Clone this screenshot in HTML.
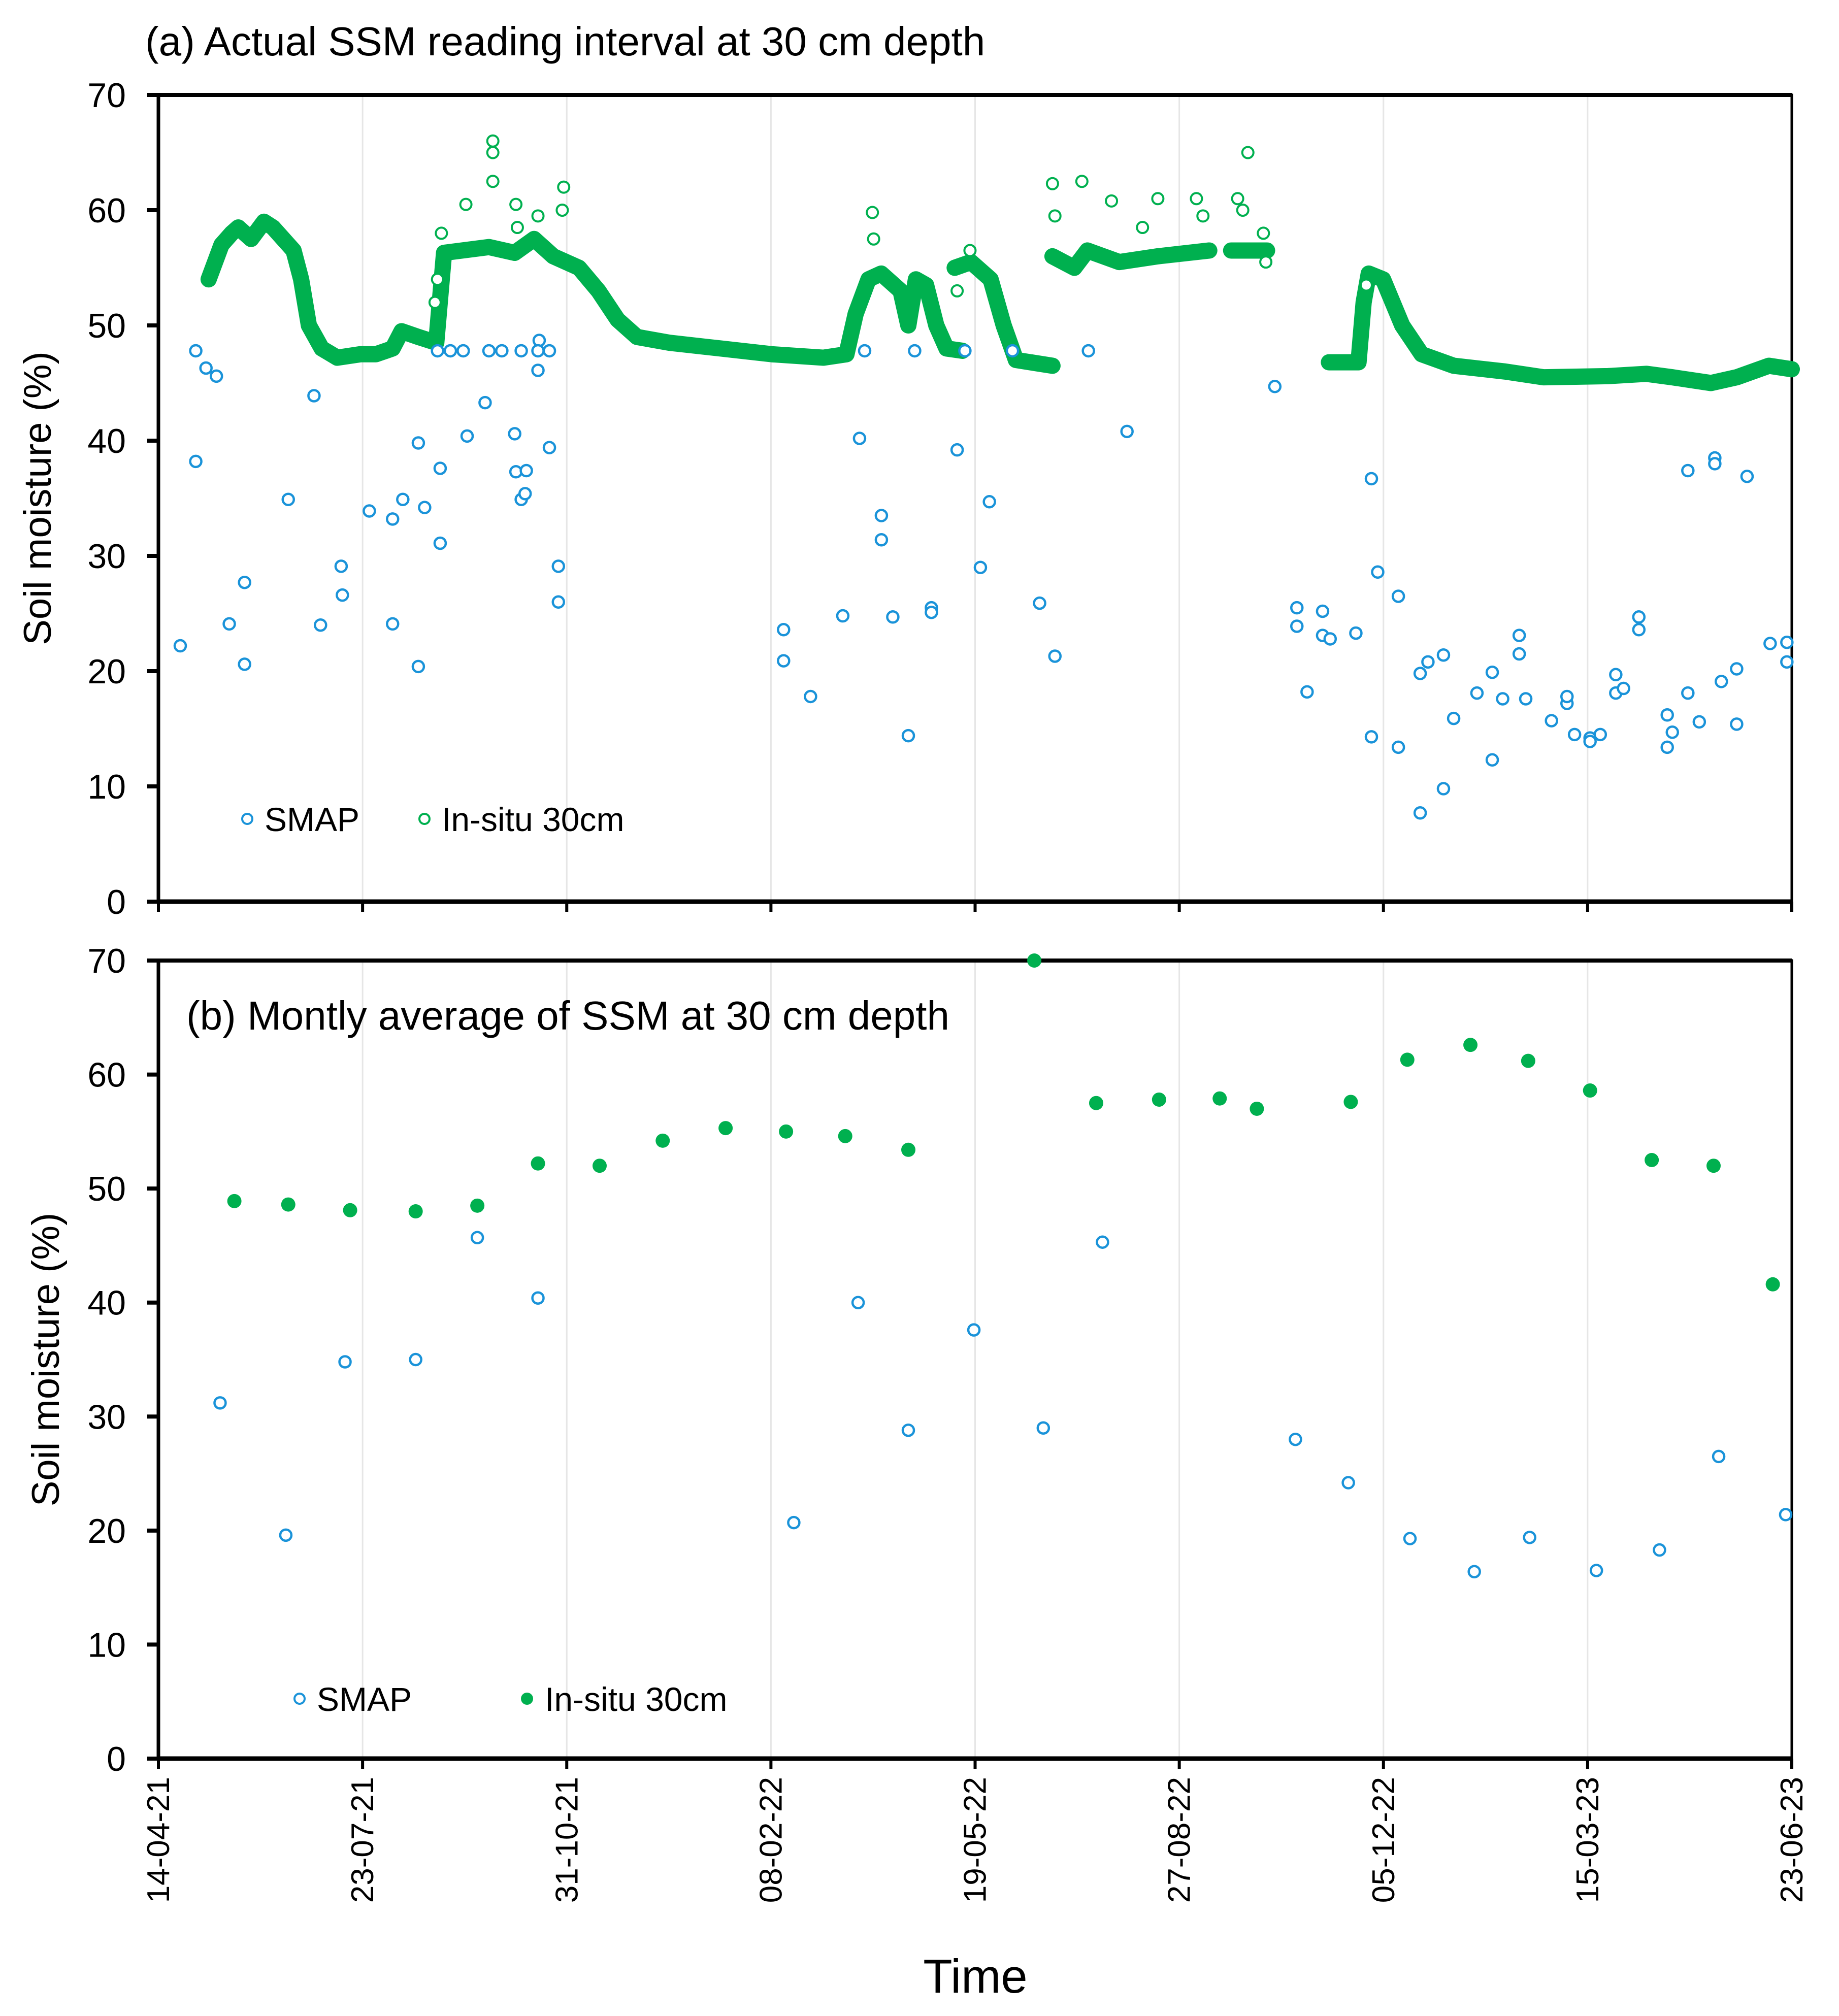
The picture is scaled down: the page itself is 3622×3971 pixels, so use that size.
<!DOCTYPE html>
<html><head><meta charset="utf-8">
<style>
html,body{margin:0;padding:0;background:#fff;}
svg{display:block;font-family:"Liberation Sans",Arial,sans-serif;}
</style></head>
<body>
<svg id="chart" width="3622" height="3971" viewBox="0 0 3622 3971" xmlns="http://www.w3.org/2000/svg"></svg>
<script>
// ---- data (x in days since 14-04-21) ----
const dateTickLabels = ["14-04-21","23-07-21","31-10-21","08-02-22","19-05-22","27-08-22","05-12-22","15-03-23","23-06-23"];
const dateTickDays = [0,100,200,300,400,500,600,700,800];
const yTickLabels = ["0","10","20","30","40","50","60","70"];
const yTickValues = [0,10,20,30,40,50,60,70];

// panel (a) in-situ daily trace segments (null = gap)
const insituDays = [24.6,30.9,35.9,39.1,45.4,51.7,56.1,66.2,69.9,73.7,80,87.6,98.9,106.5,114.7,119.1,127.3,136.1,139.9,161.9,174.5,184,193.4,206,215.5,224.9,234.4,250.1,275.3,300.5,325.7,337,341.5,347.8,354,363.5,367.3,371,376,381,386,393.8,null,390,398,407.6,414,420,437.9,null,437.9,448.6,455,470.6,489.5,514.7,null,525.4,543,null,573.3,587.8,590.3,592.8,599.8,609.2,618.7,634.4,659.6,678.5,710,728.9,741.5,760.4,773,788.8,800];
const insituVals = [54,57,58,58.5,57.5,59,58.5,56.5,54,50,48,47.2,47.5,47.5,48,49.5,49,48.5,56.3,56.8,56.3,57.5,56,55,53,50.5,49,48.5,48,47.5,47.2,47.5,51,54,54.5,53,50,54,53.5,50,48,47.8,null,55,55.5,54,50,47,46.5,null,56,55,56.5,55.5,56,56.5,null,56.5,56.5,null,46.8,46.8,52,54.5,54,50,47.5,46.5,46,45.5,45.6,45.8,45.5,45,45.5,46.5,46.2];
// panel (a) in-situ spikes (open circles)
const spikeDays = [135.5,136.7,138.6,150.6,163.8,163.8,163.8,175.1,175.8,185.9,198.5,197.8,349.7,350.3,391.2,397.5,437.9,452.3,439.1,466.8,482,489.5,508.4,511.6,528.6,533.6,531.1,541.2,542.4,591.6];
const spikeVals = [52,54,58,60.5,66,65,62.5,60.5,58.5,59.5,62,60,59.8,57.5,53,56.5,62.3,62.5,59.5,60.8,58.5,61,61,59.5,61,65,60,58,55.5,53.5];
// panel (a) SMAP
const smapADays = [10.7,18.3,18.3,23.3,28.4,34.7,42.2,42.2,63.6,76.2,79.4,89.5,90.1,103.3,114.7,114.7,119.7,127.3,127.3,130.4,138,138,136.7,143,149.3,151.2,160,161.9,168.2,174.5,175.1,177.7,179.6,180.2,177.7,186.5,185.9,185.9,191.5,191.5,195.9,195.9,306.2,306.2,319.4,335.2,343.4,345.9,354.1,354.1,359.7,367.3,370.4,378.6,378.6,391.2,395,402.6,407,418.3,431.6,439.1,455.5,474.4,546.8,557.6,557.6,562.6,570.2,570.2,573.9,586.5,594.1,594.1,597.2,607.3,607.3,618,618,621.8,629.4,629.4,634.4,645.8,653.3,653.3,658.4,666.5,666.5,669.7,682.3,689.9,689.9,693.6,701.2,701.2,706.2,713.8,713.8,717.6,725.1,725.1,739,739,741.5,749.1,749.1,754.7,762.3,762.3,765.5,773,773,778.1,789.4,797.6,797.6];
const smapAVals = [22.2,47.8,38.2,46.3,45.6,24.1,27.7,20.6,34.9,43.9,24,29.1,26.6,33.9,33.2,24.1,34.9,39.8,20.4,34.2,37.6,31.1,47.8,47.8,47.8,40.4,43.3,47.8,47.8,40.6,37.3,34.9,35.4,37.4,47.8,48.7,46.1,47.8,47.8,39.4,29.1,26,23.6,20.9,17.8,24.8,40.2,47.8,33.5,31.4,24.7,14.4,47.8,25.5,25.1,39.2,47.8,29,34.7,47.8,25.9,21.3,47.8,40.8,44.7,25.5,23.9,18.2,25.2,23.1,22.8,23.3,36.7,14.3,28.6,26.5,13.4,19.8,7.7,20.8,21.4,9.8,15.9,18.1,19.9,12.3,17.6,23.1,21.5,17.6,15.7,17.2,17.8,14.5,14.2,13.9,14.5,19.7,18.1,18.5,24.7,23.6,16.2,13.4,14.7,37.4,18.1,15.6,38.5,38,19.1,20.2,15.4,36.9,22.4,22.5,20.8];
// panel (b) monthly averages
const insituBDays = [37.2,63.6,93.9,126,156.2,185.9,216.1,247,277.8,307.4,336.4,367.3,429,459.3,490.1,519.8,538,584,611.7,642.6,670.9,701.2,731.4,761.7,790.7];
const insituBVals = [48.9,48.6,48.1,48,48.5,52.2,52,54.2,55.3,55,54.6,53.4,70,57.5,57.8,57.9,57,57.6,61.3,62.6,61.2,58.6,52.5,52,41.6];
const smapBDays = [30.2,62.4,91.4,126,156.2,185.9,311.2,342.7,367.3,399.4,433.4,462.4,556.9,582.8,613,644.5,671.6,704.3,735.2,764.2,797];
const smapBVals = [31.2,19.6,34.8,35,45.7,40.4,20.7,40,28.8,37.6,29,45.3,28,24.2,19.3,16.4,19.4,16.5,18.3,26.5,21.4];

// ---- drawing ----
const NS="http://www.w3.org/2000/svg";
const svg=document.getElementById('chart');
function mk(tag,attrs,parent){const e=document.createElementNS(NS,tag);for(const k in attrs)e.setAttribute(k,attrs[k]);(parent||svg).appendChild(e);return e;}
const L=312,R=3529;
const xS=d=>L+(R-L)*d/800;
const panels=[{top:187,bot:1776,name:'a'},{top:1892,bot:3464,name:'b'}];
const BLUE="#1a93d9",GREEN="#00b04f";

panels.forEach(p=>{
  const yS=v=>p.bot-(p.bot-p.top)*v/70;
  p.yS=yS;
  const g=mk('g',{});
  
  
  dateTickDays.forEach((d,i)=>{ if(i===0||i===dateTickDays.length-1)return;
    const l=mk('line',{x1:xS(d),x2:xS(d),y1:p.top,y2:p.bot,stroke:'#e6e6e6','stroke-width':3},g);
    
    
  });
  yTickValues.forEach((v,i)=>{
    const t=mk('line',{x1:L-22,x2:L,y1:yS(v),y2:yS(v),stroke:'#000','stroke-width':8},g);
    
    
    const tx=mk('text',{x:248,y:yS(v)+24,'text-anchor':'end','font-size':68,fill:'#000'},g);
    tx.textContent=yTickLabels[i];
    
    
  });
  dateTickDays.forEach(d=>{
    const t=mk('line',{x1:xS(d),x2:xS(d),y1:p.bot,y2:p.bot+20,stroke:'#000','stroke-width':6},g);
    
    
  });
  const fr=mk('rect',{x:L,y:p.top,width:R-L,height:p.bot-p.top,fill:'none',stroke:'#000','stroke-width':5},g);
  
  
  mk('line',{x1:L,x2:R,y1:p.top,y2:p.top,stroke:'#000','stroke-width':8},g);
  mk('line',{x1:L,x2:R,y1:p.bot,y2:p.bot,stroke:'#000','stroke-width':9},g);
  mk('line',{x1:L,x2:L,y1:p.top,y2:p.bot,stroke:'#000','stroke-width':7},g);
  const yt=mk('text',{x:0,y:0,'text-anchor':'middle','font-size':76,fill:'#000',transform:`translate(${p.name==='a'?100:116},${(p.top+p.bot)/2}) rotate(-90)`},g);
  yt.textContent='Soil moisture (%)';
  
  
});

// panel a
const pa=panels[0],ya=pa.yS;
let segs=[],cur=[];
insituDays.forEach((d,i)=>{ if(d===null){segs.push(cur);cur=[];} else cur.push([xS(d),ya(insituVals[i])]); });
segs.push(cur);
segs.forEach(s=>{
  const pl=mk('polyline',{points:s.map(p=>p.join(',')).join(' '),fill:'none',stroke:GREEN,'stroke-width':32,'stroke-linejoin':'round','stroke-linecap':'round'});
  
  
});
spikeDays.forEach((d,i)=>{
  const c=mk('circle',{cx:xS(d),cy:ya(spikeVals[i]),r:11,fill:'#fff',stroke:GREEN,'stroke-width':4});
  
  
});
smapADays.forEach((d,i)=>{
  const c=mk('circle',{cx:xS(d),cy:ya(smapAVals[i]),r:11,fill:'#fff',stroke:BLUE,'stroke-width':4.5});
  
  
});
// panel b
const pb=panels[1],yb=pb.yS;
smapBDays.forEach((d,i)=>{
  const c=mk('circle',{cx:xS(d),cy:yb(smapBVals[i]),r:11,fill:'#fff',stroke:BLUE,'stroke-width':4.5});
  
  
});
insituBDays.forEach((d,i)=>{
  const c=mk('circle',{cx:xS(d),cy:yb(insituBVals[i]),r:14,fill:GREEN});
  
  
});

dateTickDays.forEach((d,i)=>{
  const t=mk('text',{x:0,y:0,'text-anchor':'end','font-size':62,fill:'#000',transform:`translate(${xS(d)+21},${3500}) rotate(-90)`});
  t.textContent=dateTickLabels[i];
  
  
});
</script>
<script>
(function(){
const NS="http://www.w3.org/2000/svg",svg=document.getElementById('chart');
function t(x,y,s,txt,name,extra){const e=document.createElementNS(NS,'text');e.setAttribute('x',x);e.setAttribute('y',y);e.setAttribute('font-size',s);e.setAttribute('fill','#000');if(extra)for(const k in extra)e.setAttribute(k,extra[k]);e.textContent=txt;svg.appendChild(e);return e;}
function c(x,y,r,fill,stroke,name){const e=document.createElementNS(NS,'circle');e.setAttribute('cx',x);e.setAttribute('cy',y);e.setAttribute('r',r);e.setAttribute('fill',fill);if(stroke){e.setAttribute('stroke',stroke);e.setAttribute('stroke-width',4);}svg.appendChild(e);}
t(286,109,80,'(a) Actual SSM reading interval at 30 cm depth','panel-a-title');
t(367,2028,80,'(b) Montly average of SSM at 30 cm depth','panel-b-title');
c(487,1613,10,'#fff','#1a93d9','legend-a-smap-marker');
t(521,1637,66,'SMAP','legend-a-smap-label');
c(836,1613,10,'#fff','#00b04f','legend-a-insitu-marker');
t(870,1637,66,'In-situ 30cm','legend-a-insitu-label');
c(590,3346,10,'#fff','#1a93d9','legend-b-smap-marker');
t(624,3370,66,'SMAP','legend-b-smap-label');
c(1038,3346,12,'#00b04f',null,'legend-b-insitu-marker');
t(1073,3370,66,'In-situ 30cm','legend-b-insitu-label');
t(1921,3925,94,'Time','x-axis-title',{'text-anchor':'middle'});
})();
</script>
</body></html>
